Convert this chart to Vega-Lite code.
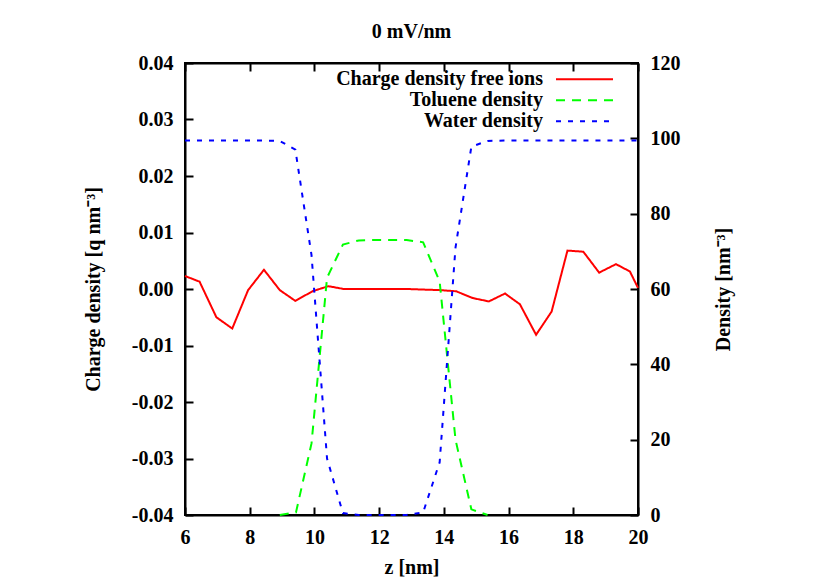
{
  "$schema": "https://vega.github.io/schema/vega-lite/v6.json",
  "width": 453,
  "height": 452,
  "autosize": {"type": "none"},
  "padding": {"left": 185, "top": 63, "right": 192, "bottom": 66},
  "background": "white",
  "title": {"text": "0 mV/nm", "fontSize": 20, "font": "Liberation Serif", "fontWeight": "bold", "color": "black", "offset": 11},
  "datasets": {
    "charge": [
      {"z": 6.0, "value": 0.0023, "series": "Charge density free ions"},
      {"z": 6.45, "value": 0.0013, "series": "Charge density free ions"},
      {"z": 6.97, "value": -0.005, "series": "Charge density free ions"},
      {"z": 7.46, "value": -0.007, "series": "Charge density free ions"},
      {"z": 7.95, "value": -0.0002, "series": "Charge density free ions"},
      {"z": 8.44, "value": 0.0034, "series": "Charge density free ions"},
      {"z": 8.93, "value": -0.0002, "series": "Charge density free ions"},
      {"z": 9.41, "value": -0.0021, "series": "Charge density free ions"},
      {"z": 9.94, "value": -0.0004, "series": "Charge density free ions"},
      {"z": 10.43, "value": 0.0005, "series": "Charge density free ions"},
      {"z": 10.91, "value": 0.0, "series": "Charge density free ions"},
      {"z": 11.4, "value": 0.0, "series": "Charge density free ions"},
      {"z": 11.89, "value": 0.0, "series": "Charge density free ions"},
      {"z": 12.38, "value": 0.0, "series": "Charge density free ions"},
      {"z": 12.87, "value": 0.0, "series": "Charge density free ions"},
      {"z": 13.36, "value": -0.0001, "series": "Charge density free ions"},
      {"z": 13.88, "value": -0.0002, "series": "Charge density free ions"},
      {"z": 14.38, "value": -0.0004, "series": "Charge density free ions"},
      {"z": 14.89, "value": -0.0016, "series": "Charge density free ions"},
      {"z": 15.39, "value": -0.0022, "series": "Charge density free ions"},
      {"z": 15.89, "value": -0.0008, "series": "Charge density free ions"},
      {"z": 16.35, "value": -0.0027, "series": "Charge density free ions"},
      {"z": 16.85, "value": -0.0081, "series": "Charge density free ions"},
      {"z": 17.33, "value": -0.004, "series": "Charge density free ions"},
      {"z": 17.82, "value": 0.0068, "series": "Charge density free ions"},
      {"z": 18.31, "value": 0.0066, "series": "Charge density free ions"},
      {"z": 18.8, "value": 0.0029, "series": "Charge density free ions"},
      {"z": 19.32, "value": 0.0044, "series": "Charge density free ions"},
      {"z": 19.75, "value": 0.0031, "series": "Charge density free ions"},
      {"z": 20.0, "value": 0.0002, "series": "Charge density free ions"}
    ],
    "dens": [
      {"z": 8.93, "value": 0, "series": "Toluene density"},
      {"z": 9.43, "value": 0.7, "series": "Toluene density"},
      {"z": 9.91, "value": 19, "series": "Toluene density"},
      {"z": 10.39, "value": 63, "series": "Toluene density"},
      {"z": 10.88, "value": 71.8, "series": "Toluene density"},
      {"z": 11.37, "value": 72.9, "series": "Toluene density"},
      {"z": 11.86, "value": 73.0, "series": "Toluene density"},
      {"z": 12.36, "value": 73.0, "series": "Toluene density"},
      {"z": 12.85, "value": 73.0, "series": "Toluene density"},
      {"z": 13.36, "value": 72.4, "series": "Toluene density"},
      {"z": 13.87, "value": 62, "series": "Toluene density"},
      {"z": 14.36, "value": 20, "series": "Toluene density"},
      {"z": 14.85, "value": 1.5, "series": "Toluene density"},
      {"z": 15.35, "value": 0, "series": "Toluene density"},
      {"z": 6.0, "value": 99.4, "series": "Water density"},
      {"z": 6.45, "value": 99.4, "series": "Water density"},
      {"z": 6.97, "value": 99.4, "series": "Water density"},
      {"z": 7.46, "value": 99.4, "series": "Water density"},
      {"z": 7.95, "value": 99.4, "series": "Water density"},
      {"z": 8.44, "value": 99.4, "series": "Water density"},
      {"z": 8.93, "value": 99.3, "series": "Water density"},
      {"z": 9.41, "value": 97.0, "series": "Water density"},
      {"z": 9.91, "value": 69, "series": "Water density"},
      {"z": 10.39, "value": 15, "series": "Water density"},
      {"z": 10.88, "value": 0.5, "series": "Water density"},
      {"z": 11.37, "value": 0, "series": "Water density"},
      {"z": 11.86, "value": 0, "series": "Water density"},
      {"z": 12.36, "value": 0, "series": "Water density"},
      {"z": 12.85, "value": 0, "series": "Water density"},
      {"z": 13.36, "value": 0.7, "series": "Water density"},
      {"z": 13.87, "value": 14, "series": "Water density"},
      {"z": 14.36, "value": 71, "series": "Water density"},
      {"z": 14.85, "value": 97.8, "series": "Water density"},
      {"z": 15.35, "value": 99.3, "series": "Water density"},
      {"z": 15.86, "value": 99.4, "series": "Water density"},
      {"z": 16.35, "value": 99.4, "series": "Water density"},
      {"z": 16.85, "value": 99.4, "series": "Water density"},
      {"z": 17.33, "value": 99.4, "series": "Water density"},
      {"z": 17.82, "value": 99.4, "series": "Water density"},
      {"z": 18.31, "value": 99.4, "series": "Water density"},
      {"z": 18.8, "value": 99.4, "series": "Water density"},
      {"z": 19.32, "value": 99.4, "series": "Water density"},
      {"z": 19.75, "value": 99.45, "series": "Water density"},
      {"z": 20.0, "value": 99.45, "series": "Water density"}
    ]
  },
  "layer": [
    {
      "data": {"name": "charge"},
      "mark": {"type": "line", "strokeWidth": 2},
      "encoding": {
        "x": {"field": "z", "type": "quantitative", "scale": {"domain": [6, 20], "nice": false, "zero": false},
              "axis": {"orient": "bottom", "title": "z [nm]", "values": [6, 8, 10, 12, 14, 16, 18, 20], "titlePadding": 10,
                       "tickSize": -8, "labelPadding": 20}},
        "y": {"field": "value", "type": "quantitative", "scale": {"domain": [-0.04, 0.04], "nice": false},
              "axis": {"orient": "left", "title": "Charge density [q nm⁻³]", "values": [-0.04, -0.03, -0.02, -0.01, 0, 0.01, 0.02, 0.03, 0.04],
                       "labelExpr": "replace(format(datum.value, '.2f'), '\u2212', '-')", "titlePadding": 28,
                       "tickSize": -8, "labelPadding": 20}},
        "color": {"field": "series", "type": "nominal",
                  "scale": {"domain": ["Charge density free ions", "Toluene density", "Water density"], "range": ["#ff0000", "#00ff00", "#0000ff"]}},
        "strokeDash": {"field": "series", "type": "nominal",
                  "scale": {"domain": ["Charge density free ions", "Toluene density", "Water density"], "range": [[1, 0], [9, 7], [5, 7]]}}
      }
    },
    {
      "data": {"name": "dens"},
      "mark": {"type": "line", "strokeWidth": 2},
      "encoding": {
        "x": {"field": "z", "type": "quantitative", "scale": {"domain": [6, 20], "nice": false, "zero": false},
              "axis": {"orient": "top", "title": null, "labels": false, "tickSize": -8, "values": [6, 8, 10, 12, 14, 16, 18, 20]}},
        "y": {"field": "value", "type": "quantitative", "scale": {"domain": [0, 120], "nice": false},
              "axis": {"orient": "right", "title": "Density [nm⁻³]", "values": [0, 20, 40, 60, 80, 100, 120], "format": "d", "titleAngle": 270, "titlePadding": 53,
                       "tickSize": -8, "labelPadding": 20}},
        "color": {"field": "series", "type": "nominal",
                  "scale": {"domain": ["Charge density free ions", "Toluene density", "Water density"], "range": ["#ff0000", "#00ff00", "#0000ff"]}},
        "strokeDash": {"field": "series", "type": "nominal",
                  "scale": {"domain": ["Charge density free ions", "Toluene density", "Water density"], "range": [[1, 0], [9, 7], [5, 7]]}}
      }
    }
  ],
  "resolve": {"scale": {"y": "independent"}, "axis": {"x": "independent", "y": "independent"}},
  "config": {
    "font": "Liberation Serif",
    "view": {"stroke": "black", "strokeWidth": 2},
    "axis": {
      "domainColor": "black", "domainWidth": 2, "tickColor": "black", "tickWidth": 2, "ticks": true,
      "grid": false, "zindex": 1,
      "labelFont": "Liberation Serif", "labelFontSize": 20, "labelFontWeight": "bold", "labelColor": "black",
      "labelFlush": false, "labelOverlap": false,
      "titleFont": "Liberation Serif", "titleFontSize": 20, "titleFontWeight": "bold", "titleColor": "black"
    },
    "legend": {
      "title": null, "orient": "none", "legendX": 339.5, "legendY": 6.3, "padding": 0,
      "symbolType": "M-5.7,0H5.7", "symbolSize": 100, "symbolStrokeWidth": 2,
      "labelAlign": "right", "labelOffset": -51.5, "symbolOffset": 50,
      "labelFont": "Liberation Serif", "labelFontSize": 20, "labelFontWeight": "bold", "labelColor": "black",
      "labelLimit": 400, "rowPadding": 1
    }
  }
}
